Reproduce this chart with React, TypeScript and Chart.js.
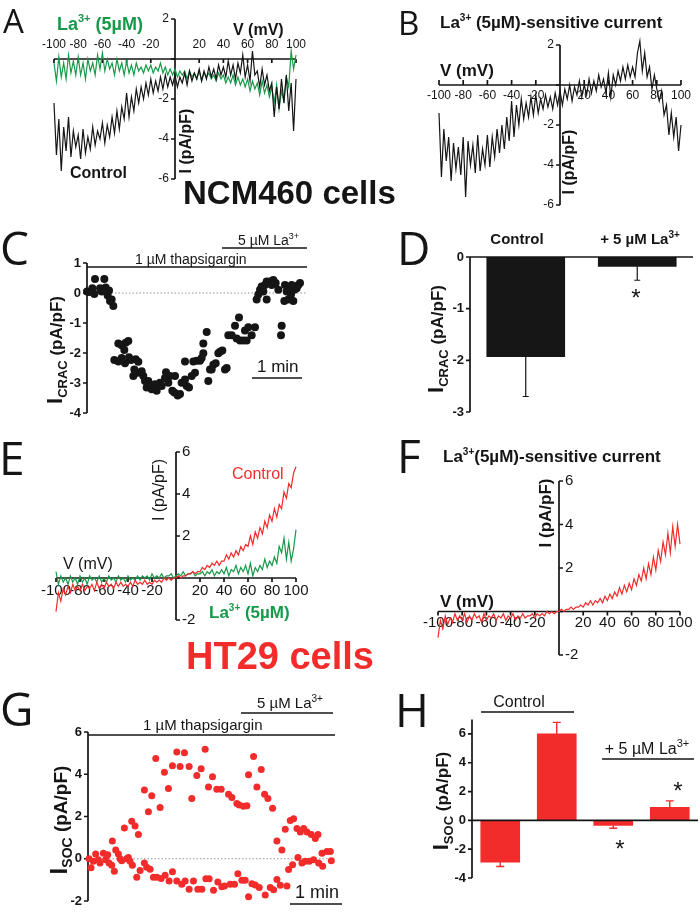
import React, { useEffect, useRef } from 'react';
import { Chart, registerables } from 'chart.js';

Chart.register(...registerables);

// ---------------- data ----------------
const V_MV = [
  -100, -98, -96, -94, -92, -90, -88, -86, -84, -82,
  -80, -78, -76, -74, -72, -70, -68, -66, -64, -62,
  -60, -58, -56, -54, -52, -50, -48, -46, -44, -42,
  -40, -38, -36, -34, -32, -30, -28, -26, -24, -22,
  -20, -18, -16, -14, -12, -10, -8, -6, -4, -2,
  0, 2, 4, 6, 8, 10, 12, 14, 16, 18,
  20, 22, 24, 26, 28, 30, 32, 34, 36, 38,
  40, 42, 44, 46, 48, 50, 52, 54, 56, 58,
  60, 62, 64, 66, 68, 70, 72, 74, 76, 78,
  80, 82, 84, 86, 88, 90, 92, 94, 96, 98,
  100,
];

// Panel A (NCM460) current density, pA/pF
const A_CONTROL = [
  -2.2, -4.8, -3.0, -5.6, -3.4, -4.6, -2.9, -4.9, -3.6, -4.4,
  -3.8, -5.0, -3.5, -4.7, -3.9, -4.5, -3.4, -4.3, -3.6, -4.0,
  -3.2, -4.2, -3.3, -3.9, -2.9, -3.7, -2.6, -3.5, -2.4, -3.0,
  -1.7, -2.9, -1.9, -2.6, -1.5, -2.2, -1.4, -2.0, -1.2, -1.8,
  -1.0, -1.7, -1.1, -1.6, -0.9, -1.5, -0.8, -1.4, -0.9, -1.3,
  -0.8, -1.4, -0.9, -1.2, -0.7, -1.3, -0.6, -1.1, -0.7, -1.0,
  -0.5, -1.1, -0.6, -1.0, -0.4, -0.9, -0.5, -1.0, -0.3, -0.8,
  -0.4, -0.9, -0.1, -0.8, -0.3, -1.0, -0.2, -0.7, 0.2, -0.9,
  -0.3, -1.1, 0.4, -0.8, -0.6, -1.4, -0.5, -1.3, -0.8, -1.6,
  -1.2, -2.9, -1.4, -2.5, -1.0, -2.2, -0.8, -2.6, -1.2, -3.6,
  -1.0,
];
const A_LA = [
  -0.2, -1.1, 0.1, -0.9, -0.2, -1.0, 0.2, -0.7, -0.1, -0.8,
  0.1, -0.8, -0.2, -1.0, 0.0, -0.6, -0.2, -0.8, 0.2, -0.5,
  0.3, -0.6, 0.0, -0.5, -0.2, -0.8, 0.0, -0.6, -0.2, -0.8,
  -0.1, -0.7, -0.3, -0.8, -0.2, -0.6, -0.4, -0.7, -0.3, -0.6,
  -0.3, -0.7, -0.4, -0.6, -0.2, -0.7, -0.4, -0.8, -0.5, -0.8,
  -0.5, -0.9, -0.6, -0.8, -0.6, -1.0, -0.6, -0.9, -0.7, -1.0,
  -0.6, -1.1, -0.7, -0.9, -0.7, -1.0, -0.8, -1.1, -0.7, -1.0,
  -0.8, -1.2, -0.9, -1.2, -0.8, -1.3, -0.9, -1.3, -1.0, -1.4,
  -1.0, -1.6, -1.1, -1.5, -1.2, -1.8, -1.1, -1.7, -1.3, -1.9,
  -1.4, -2.2, -1.3, -2.5, -1.6, -2.1, -0.9, -1.4, 0.4, -0.5,
  0.2,
];
// Panel B La3+-sensitive current
const B_SENSITIVE = [
  -1.4, -4.6, -2.2, -3.8, -2.6, -4.8, -2.9, -4.2, -3.1, -4.5,
  -2.6, -5.6, -2.8, -4.0, -3.0, -4.4, -2.5, -4.3, -3.2, -4.0,
  -2.5, -4.1, -2.6, -3.6, -2.2, -3.4, -2.0, -3.2, -1.6, -2.8,
  -0.8, -2.6, -1.0, -2.0, -0.7, -1.7, -0.9, -1.6, -0.6, -1.5,
  -0.5, -1.4, -0.7, -1.2, -0.5, -1.1, -0.6, -1.2, -0.4, -1.0,
  -0.3, -1.0, -0.2, -0.7, 0.0, -0.8, -0.1, -0.5, 0.2, -0.6,
  0.0, -0.5, 0.3, -0.4, 0.2, -0.3, 0.5, -0.1, 0.3, -0.4,
  0.6, -0.6, 0.5, 0.0, 0.7, 0.2, 0.9, 0.3, 1.0, 0.4,
  0.9, 0.4, 1.6, 2.2, 0.7, 1.6, 0.4, 0.9, -0.2, 0.5,
  -0.2, -0.8, -0.3, -1.5, -1.0, -2.5, -1.4, -2.6, -1.6, -3.3,
  -2.0,
];
// Panel E (HT29)
const E_CONTROL = [
  -1.6, -0.7, -1.1, -0.5, -0.8, -0.4, -0.7, -0.3, -0.6, -0.4,
  -0.6, -0.3, -0.6, -0.4, -0.5, -0.3, -0.6, -0.2, -0.5, -0.3,
  -0.5, -0.2, -0.4, -0.3, -0.5, -0.2, -0.4, -0.2, -0.4, -0.3,
  -0.4, -0.2, -0.4, -0.1, -0.3, -0.2, -0.3, -0.1, -0.3, -0.2,
  -0.3, -0.1, -0.2, -0.1, -0.2, 0.0, -0.1, 0.0, -0.1, 0.0,
  0.0, 0.1, 0.0, 0.1, 0.1, 0.2, 0.2, 0.3, 0.2, 0.3,
  0.3, 0.5, 0.4, 0.6, 0.5, 0.7, 0.6, 0.8, 0.6, 0.8,
  0.8, 1.1, 0.9, 1.2, 1.0, 1.3, 1.1, 1.5, 1.3, 1.6,
  1.5, 2.0, 1.6, 2.2, 1.9, 2.4, 2.1, 2.7, 2.4, 3.0,
  2.7, 3.3, 2.9, 3.5, 3.3, 4.1, 3.8, 4.5, 4.3, 5.0,
  5.3,
];
const E_LA = [
  0.3, -0.3, 0.1, -0.2, 0.0, -0.3, 0.1, -0.2, 0.0, -0.3,
  0.1, -0.2, 0.0, -0.3, 0.1, -0.1, 0.0, -0.2, 0.1, -0.2,
  0.0, -0.2, 0.1, -0.1, 0.0, -0.2, 0.1, -0.1, 0.0, -0.2,
  0.1, -0.1, 0.0, -0.1, 0.1, -0.1, 0.1, 0.0, 0.1, -0.1,
  0.2, 0.0, 0.1, 0.0, 0.2, 0.0, 0.1, 0.1, 0.2, 0.0,
  0.1, 0.2, 0.1, 0.3, 0.1, 0.2, 0.2, 0.3, 0.1, 0.2,
  0.2, 0.3, 0.1, 0.3, 0.2, 0.4, 0.1, 0.3, 0.2, 0.4,
  0.2, 0.5, 0.1, 0.4, 0.3, 0.6, 0.2, 0.5, 0.3, 0.6,
  0.2, 0.7, 0.1, 0.5, 0.3, 0.6, 0.4, 0.9, 0.5, 0.8,
  0.6, 1.0, 0.7, 1.5, 1.2, 1.9, 0.9, 1.7, 0.8, 1.4,
  2.3,
];
// Panel F La3+-sensitive current (HT29)
const F_SENSITIVE = [
  -1.2, -0.4, -0.8, -0.2, -0.6, -0.3, -0.5, -0.1, -0.4, -0.2,
  -0.4, -0.1, -0.5, -0.2, -0.4, -0.1, -0.3, -0.2, -0.5, -0.1,
  -0.4, -0.2, -0.3, -0.1, -0.4, -0.2, -0.3, -0.1, -0.4, -0.2,
  -0.3, -0.1, -0.4, -0.2, -0.3, -0.1, -0.3, -0.2, -0.2, -0.1,
  -0.3, -0.1, -0.2, -0.1, -0.2, 0.0, -0.1, 0.0, -0.1, 0.0,
  0.0, 0.1, 0.0, 0.1, 0.1, 0.2, 0.1, 0.2, 0.2, 0.3,
  0.2, 0.4, 0.3, 0.5, 0.3, 0.5, 0.4, 0.6, 0.4, 0.7,
  0.5, 0.8, 0.6, 0.9, 0.7, 1.1, 0.8, 1.2, 0.9, 1.3,
  1.0, 1.5, 1.2, 1.7, 1.4, 2.0, 1.5, 2.2, 1.7, 2.5,
  1.9, 2.8, 2.3, 3.2, 2.6, 3.6, 2.7, 3.9, 3.0, 4.0,
  3.1,
];

// Panel C time course (s, pA/pF)
const C_TIME_S = [
  0, 2.4, 6.4, 8.8, 9.6, 15.6, 17.6, 20.8, 22.4, 24.8, 26.4, 27.6, 29.6, 31.6,
  32.8, 37.6, 37.6, 41.6, 41.6, 44.8, 45.6, 46.4, 49.6, 50.4, 52.8, 55.6, 56.8, 58.4,
  60.8, 61.6, 65.6, 67.6, 69.6, 71.6, 73.6, 75.6, 77.6, 81.6, 83.6, 87.6, 89.6, 93.6,
  94.8, 97.6, 99.6, 102.4, 104.8, 105.6, 108.8, 111.6, 113.6, 117.6, 117.6, 119.6, 122.4,
  125.6, 127.6, 129.6, 131.6, 135.6, 137.6, 139.6, 139.6, 143.6, 145.6, 147.6, 149.6,
  151.6, 154.4, 157.6, 159.6, 162.4, 165.6, 167.6, 169.6, 173.6, 177.6, 179.6, 182.4,
  183.6, 187.6, 189.6, 191.6, 193.6, 197.6, 201.6, 203.6, 205.6, 207.6, 209.6, 211.6,
  213.6, 215.6, 215.6, 219.6, 221.6, 223.6, 226.4, 229.6, 232.8, 233.6, 236.8, 237.6,
  239.6, 241.6, 242.4, 244.8, 245.6, 247.6, 248.8, 251.6, 253.6, 255.6,
];
const C_ICRAC = [
  0.05, 0.03, 0.16, -0.03, 0.47, 0.16, 0.05, 0.47, 0.18, -0.08, 0.08, -0.27, -0.22, -0.43,
  -2.23, -1.68, -2.28, -1.74, -2.17, -1.9, -2.34, -1.66, -1.6, -2.14, -2.23, -2.77, -2.55, -2.21,
  -2.66, -2.29, -2.61, -2.77, -2.93, -3.15, -2.93, -3.1, -3.21, -3.04, -3.26, -2.99, -3.1, -2.83,
  -2.64, -2.99, -2.77, -3.26, -3.32, -2.77, -3.42, -3.37, -2.99, -2.88, -2.28, -3.1, -3.15,
  -2.77, -2.28, -2.66, -2.26, -2.26, -2.17, -2.01, -1.68, -1.3, -2.93, -2.55, -2.55,
  -2.39, -2.34, -2.01, -1.96, -1.92, -2.55, -2.5, -1.41, -1.41, -1.09, -1.52, -0.82,
  -1.58, -1.58, -1.25, -1.58, -1.14, -1.41, -1.14, -0.22, -0.05, 0.11, 0.22, 0.05,
  0.27, -0.22, 0.38, 0.38, 0.27, 0.43, 0.33, 0.11, -1.41, -1.09, -0.27, 0.27,
  0.05, -0.22, 0.16, -0.05, 0.27, -0.27, 0.11, 0.16, 0.27, 0.33,
];

// Panel D summary
const D_GROUPS = ['Control', '+ 5 µM La3+'];
const D_MEAN = [-1.93, -0.18];
const D_SEM = [0.77, 0.27];

// Panel G time course (s, pA/pF)
const G_TIME_S = [
  1.2, 3.6, 6.4, 9.2, 12.4, 14.4, 18.4, 21.2, 23.6, 25.2, 28.4, 29.2, 31.6, 33.2, 36.4,
  38.4, 40.4, 43.6, 46.4, 48.4, 50.4, 52.4, 53.2, 56.4, 58.4, 60.4, 62.4, 67.6, 67.6,
  70.4, 72.4, 74.4, 76.4, 78.4, 81.2, 82.4, 86.4, 87.6, 91.6, 92.4, 96.4, 97.2, 101.2,
  101.2, 106.4, 106.4, 110.4, 112.4, 115.6, 116.4, 121.2, 121.2, 124.4, 126.4, 130.4,
  131.6, 135.6, 136.4, 140.4, 141.2, 144.4, 145.2, 149.2, 150.4, 154.4, 155.6, 159.6,
  160.4, 163.6, 168.4, 170.4, 172.4, 175.6, 178.4, 179.6, 181.2, 184.4, 186.4, 188.4,
  190.4, 192.4, 192.4, 196.4, 198.4, 200.4, 202.4, 205.2, 207.6, 211.6, 212.4, 215.6,
  218.4, 221.2, 222.4, 226.4, 226.4, 230.4, 232.4, 236.4, 238.4, 240.4, 242.4, 245.2,
  246.4, 250.4, 251.6, 254.4, 256.4, 258.4, 260.4, 262.4, 265.2, 267.6, 270.4, 272.4,
  275.6, 276.4, 280.4, 281.2, 286.4, 290.4, 291.6,
];
const G_ISOC = [
  0, -0.43, -0.12, 0.22, -0.05, -0.2, 0.26, -0.05, 0.19, -0.2, -0.31, 0.84, -0.59, 0.42, 0.22,
  0, -0.09, 1.46, 0, 0.06, -0.12, 1.77, -0.31, 1.55, -0.87, 1.15, -0.56, 3.26, -0.2,
  -0.4, 2.23, -0.5, 2.98, -0.87, 4.74, -0.87, 2.43, -0.93, 4.09, -0.78, 3.32, -1.05, 4.4,
  -0.62, 5.05, -1.05, 4.37, -1.21, 5.02, -1.05, 4.37, -1.44, 2.85, -1.05, 3.94,
  -1.44, 4.26, -1.44, 5.18, -0.95, 3.4, -0.95, 3.88, -1.49, 3.29, -1.1, 3.29,
  -1.33, -1.29, 3.05, -1.21, 2.9, -1.21, 2.62, -0.71, 2.54, -1.02, 2.48, -1.02,
  2.51, -1.8, 3.98, -1.18, 4.84, -1.24, 3.4, -1.36, 4.22, 3.05, -1.72, 2.85,
  -1.36, 2.39, -1.47, 0.84, -0.98, -1.26, 0.42, 1.4, -1.29, -0.51, 1.81, -0.28,
  1.89, 1.43, 0.06, 1.27, -0.2, 1.43, -0.12, 1.27, -0.12, 1.15, -0.05, 0.96,
  1.15, -0.2, 0.26, -0.36, 0.34, 0.34, -0.09,
];

// Panel H summary
const H_GROUPS = ['Control inward', 'Control outward', 'La3+ inward', 'La3+ outward'];
const H_MEAN = [-2.9, 6.0, -0.35, 0.9];
const H_SEM = [0.3, 0.8, 0.2, 0.45];

// tick values
const IV_X_TICKS = [-100, -80, -60, -40, -20, 20, 40, 60, 80, 100];
const AB_Y_TICKS = [2, 0, -2, -4, -6];
const AB_Y_LABELS = [2, -2, -4, -6];
const C_Y_TICKS = [1, 0, -1, -2, -3, -4];
const D_Y_TICKS = [0, -1, -2, -3];
const EF_Y_TICKS = [6, 4, 2, 0, -2];
const EF_Y_LABELS = [6, 4, 2, -2];
const G_Y_TICKS = [6, 4, 2, 0, -2];
const H_Y_TICKS = [6, 4, 2, 0, -2, -4];

// ---------------- styling ----------------
const PW = 700;
const PH = 912;
const INK = '#151515';
const GREEN = '#17994a';
const RED = '#f22b2b';
const SANS = '"Liberation Sans", Arial, Helvetica, sans-serif';
const fb = (n: number) => `bold ${n}px ${SANS}`;
const fn = (n: number) => `${n}px ${SANS}`;
const fl = (n: number) => `${n}px "Open Sans", "Liberation Sans", sans-serif`;
const AXW = 1.7;

type Seg = [string, string, number?];

function rich(ctx: CanvasRenderingContext2D, segs: Seg[], x: number, y: number, o: any = {}) {
  ctx.save();
  ctx.translate(x, y);
  if (o.rot) ctx.rotate(o.rot);
  ctx.fillStyle = o.color || INK;
  ctx.textBaseline = 'alphabetic';
  ctx.textAlign = 'left';
  let w = 0;
  for (const s of segs) { ctx.font = s[1]; w += ctx.measureText(s[0]).width; }
  let cx = o.align === 'center' ? -w / 2 : o.align === 'right' ? -w : 0;
  for (const s of segs) {
    ctx.font = s[1];
    ctx.fillText(s[0], cx, s[2] || 0);
    cx += ctx.measureText(s[0]).width;
  }
  ctx.restore();
}

function txt(ctx: CanvasRenderingContext2D, s: string, font: string, x: number, y: number, o: any = {}) {
  rich(ctx, [[s, font]], x, y, o);
}

function hline(ctx: CanvasRenderingContext2D, x1: number, x2: number, y: number, w = 1.5, color = INK, dash: number[] = []) {
  ctx.save();
  ctx.strokeStyle = color;
  ctx.lineWidth = w;
  ctx.setLineDash(dash);
  ctx.beginPath();
  ctx.moveTo(x1, y);
  ctx.lineTo(x2, y);
  ctx.stroke();
  ctx.restore();
}

function xAxis(ctx: CanvasRenderingContext2D, c: any, atY: number, ticks: number[], tickLen: number,
  labels: number[], labelDy: number, font: string) {
  const { left, right } = c.chartArea;
  const xs = c.scales.x;
  const y = c.scales.y.getPixelForValue(atY);
  ctx.save();
  ctx.strokeStyle = INK;
  ctx.lineWidth = AXW;
  ctx.beginPath();
  ctx.moveTo(left, y);
  ctx.lineTo(right, y);
  for (const t of ticks) {
    const x = xs.getPixelForValue(t);
    ctx.moveTo(x, y);
    ctx.lineTo(x, y + tickLen);
  }
  ctx.stroke();
  ctx.fillStyle = INK;
  ctx.font = font;
  ctx.textAlign = 'center';
  ctx.textBaseline = 'middle';
  for (const t of labels) ctx.fillText(String(t), xs.getPixelForValue(t), y + labelDy);
  ctx.restore();
}

function yAxis(ctx: CanvasRenderingContext2D, c: any, x: number, ticks: number[], tickLen: number,
  labels: number[], labelDx: number, font: string) {
  const { top, bottom } = c.chartArea;
  const ys = c.scales.y;
  ctx.save();
  ctx.strokeStyle = INK;
  ctx.lineWidth = AXW;
  ctx.beginPath();
  ctx.moveTo(x, top);
  ctx.lineTo(x, bottom);
  for (const t of ticks) {
    const y = ys.getPixelForValue(t);
    ctx.moveTo(x, y);
    ctx.lineTo(x + tickLen, y);
  }
  ctx.stroke();
  ctx.fillStyle = INK;
  ctx.font = font;
  ctx.textAlign = labelDx < 0 ? 'right' : 'left';
  ctx.textBaseline = 'middle';
  for (const t of labels) ctx.fillText(String(t), x + labelDx, ys.getPixelForValue(t));
  ctx.restore();
}

function errorBars(ctx: CanvasRenderingContext2D, c: any, mean: number[], sem: number[], color: string, cap: number, w: number) {
  const xs = c.scales.x;
  const ys = c.scales.y;
  ctx.save();
  ctx.strokeStyle = color;
  ctx.lineWidth = w;
  ctx.beginPath();
  mean.forEach((m, i) => {
    const x = xs.getPixelForValue(i);
    const y1 = ys.getPixelForValue(m);
    const y2 = ys.getPixelForValue(m + Math.sign(m) * sem[i]);
    ctx.moveTo(x, y1);
    ctx.lineTo(x, y2);
    ctx.moveTo(x - cap, y2);
    ctx.lineTo(x + cap, y2);
  });
  ctx.stroke();
  ctx.restore();
}

const LA = (size: number, supSize: number, rest: string, bold = true): Seg[] => [
  ['La', bold ? fb(size) : fn(size)],
  ['3+', bold ? fb(supSize) : fn(supSize), -size * 0.42],
  [rest, bold ? fb(size) : fn(size)],
];

function ylabelSub(ctx: CanvasRenderingContext2D, sub: string, cx: number, cy: number, big: number) {
  const segs: Seg[] = [
    ['I', fb(big)],
    [sub, fb(Math.round(big * 0.6)), big * 0.22],
    [' (pA/pF)', fb(Math.round(big * 0.78))],
  ];
  rich(ctx, segs, cx + big * 0.33, cy, { rot: -Math.PI / 2, align: 'center' });
}

type Area = { l: number; t: number; r: number; b: number };

function makeChart(canvas: HTMLCanvasElement, area: Area, type: any, data: any, xs: any, ys: any,
  before?: (ctx: CanvasRenderingContext2D, c: any) => void, after?: (ctx: CanvasRenderingContext2D, c: any) => void) {
  return new Chart(canvas, {
    type,
    data,
    options: {
      responsive: false,
      maintainAspectRatio: false,
      animation: false,
      devicePixelRatio: 1,
      events: [],
      layout: { padding: { left: area.l, top: area.t, right: PW - area.r, bottom: PH - area.b } },
      plugins: { legend: { display: false }, tooltip: { enabled: false }, title: { display: false } },
      scales: {
        x: { ...xs, display: false },
        y: { ...ys, display: false },
      },
    } as any,
    plugins: [{
      id: 'deco',
      beforeDatasetsDraw: (c: any) => { if (before) before(c.ctx, c); },
      afterDatasetsDraw: (c: any) => { if (after) after(c.ctx, c); },
    }],
  });
}

const trace = (ys: number[], color: string, w = 1.2) => ({
  data: V_MV.map((v, i) => ({ x: v, y: ys[i] })),
  borderColor: color,
  borderWidth: w,
  pointRadius: 0,
  tension: 0,
  fill: false,
  clip: false,
});

const dots = (xs: number[], ys: number[], color: string, r: number) => ({
  data: xs.map((t, i) => ({ x: t, y: ys[i] })),
  backgroundColor: color,
  borderWidth: 0,
  pointRadius: r,
  clip: false,
});

// ---------------- panels ----------------
const PANELS: ((cv: HTMLCanvasElement) => Chart)[] = [
  // A
  (cv) => makeChart(cv, { l: 54, t: 19, r: 296, b: 179 }, 'line',
    { datasets: [trace(A_CONTROL, INK), trace(A_LA, GREEN)] },
    { type: 'linear', min: -100, max: 100 }, { min: -6, max: 2 },
    (ctx, c) => {
      const x0 = c.scales.x.getPixelForValue(0);
      xAxis(ctx, c, 0, IV_X_TICKS, 4, IV_X_TICKS, -14, fn(12));
      yAxis(ctx, c, x0, AB_Y_TICKS, -4, AB_Y_LABELS, -6, fn(12));
      txt(ctx, 'A', fl(33), 3, 33);
      rich(ctx, LA(18, 11, ' (5µM)'), 57, 30, { color: GREEN });
      txt(ctx, 'V (mV)', fb(16), 233, 35);
      txt(ctx, 'Control', fb(16), 70, 178);
      txt(ctx, 'I (pA/pF)', fb(16), x0 + 16, 141, { rot: -Math.PI / 2, align: 'center' });
      txt(ctx, 'NCM460 cells', fb(33), 183, 204);
    }),
  // B
  (cv) => makeChart(cv, { l: 439, t: 45, r: 681, b: 205 }, 'line',
    { datasets: [trace(B_SENSITIVE, INK)] },
    { type: 'linear', min: -100, max: 100 }, { min: -6, max: 2 },
    (ctx, c) => {
      const x0 = c.scales.x.getPixelForValue(0);
      xAxis(ctx, c, 0, IV_X_TICKS, -5, IV_X_TICKS, 11, fn(12));
      yAxis(ctx, c, x0, AB_Y_TICKS, -4, AB_Y_LABELS, -6, fn(12));
      txt(ctx, 'B', fl(33), 398, 35);
      rich(ctx, LA(17, 10, ' (5µM)-sensitive current'), 440, 28);
      txt(ctx, 'V (mV)', fb(17), 440, 76);
      txt(ctx, 'I (pA/pF)', fb(16), x0 + 14, 162, { rot: -Math.PI / 2, align: 'center' });
    }),
  // C
  (cv) => makeChart(cv, { l: 87, t: 263, r: 307, b: 413 }, 'scatter',
    { datasets: [dots(C_TIME_S, C_ICRAC, INK, 4)] },
    { type: 'linear', min: 0, max: 264 }, { min: -4, max: 1 },
    (ctx, c) => {
      const { left, right } = c.chartArea;
      const y0 = c.scales.y.getPixelForValue(0);
      hline(ctx, left, right, y0, 0.8, '#777', [1.5, 2]);
      yAxis(ctx, c, left, C_Y_TICKS, -4, C_Y_TICKS, -6, fb(13));
      hline(ctx, left, right, 267, 1.5);
      txt(ctx, '1 µM thapsigargin', fn(14), 135, 264);
      hline(ctx, 222, right, 248, 1.5);
      rich(ctx, [['5 µM La', fn(14)], ['3+', fn(9), -6]], 238, 245);
      txt(ctx, '1 min', fn(17), 257, 372);
      hline(ctx, 252, 302, 378, 1.5);
      ylabelSub(ctx, 'CRAC', 55, 350, 22);
      txt(ctx, 'C', fl(46), 0, 265);
    }),
  // D
  (cv) => makeChart(cv, { l: 470, t: 257, r: 693, b: 412 }, 'bar',
    { labels: D_GROUPS, datasets: [{ data: D_MEAN, backgroundColor: '#161616', barThickness: 78 }] },
    { type: 'category' }, { min: -3, max: 0 },
    (ctx, c) => {
      const { left } = c.chartArea;
      yAxis(ctx, c, left, D_Y_TICKS, -4, D_Y_TICKS, -6, fb(13));
      txt(ctx, 'Control', fb(15), 517, 244, { align: 'center' });
      rich(ctx, [['+ 5 µM La', fb(15)], ['3+', fb(10), -6]], 640, 244, { align: 'center' });
      ylabelSub(ctx, 'CRAC', 436, 339, 22);
      txt(ctx, 'D', fl(46), 397, 265);
    },
    (ctx, c) => {
      xAxis(ctx, c, 0, [], 0, [], 0, fn(12));
      errorBars(ctx, c, D_MEAN, D_SEM, INK, 3, 1.2);
      txt(ctx, '*', fn(24), 636, 306, { align: 'center' });
    }),
  // E
  (cv) => makeChart(cv, { l: 56, t: 452, r: 296, b: 620 }, 'line',
    { datasets: [trace(E_CONTROL, RED), trace(E_LA, GREEN)] },
    { type: 'linear', min: -100, max: 100 }, { min: -2, max: 6 },
    (ctx, c) => {
      const x0 = c.scales.x.getPixelForValue(0);
      xAxis(ctx, c, 0, IV_X_TICKS, 4, IV_X_TICKS, 13, fn(15));
      yAxis(ctx, c, x0, EF_Y_TICKS, 4, EF_Y_LABELS, 6, fn(15));
      txt(ctx, 'E', fl(46), -1, 475);
      txt(ctx, 'V (mV)', fn(16), 63, 569);
      txt(ctx, 'Control', fn(16), 232, 479, { color: RED });
      rich(ctx, LA(17, 10, ' (5µM)'), 209, 618, { color: GREEN });
      txt(ctx, 'I (pA/pF)', fn(16), x0 - 12, 490, { rot: -Math.PI / 2, align: 'center' });
      txt(ctx, 'HT29 cells', fb(38), 280, 669, { align: 'center', color: RED });
    }),
  // F
  (cv) => makeChart(cv, { l: 438, t: 481, r: 680, b: 655 }, 'line',
    { datasets: [trace(F_SENSITIVE, RED)] },
    { type: 'linear', min: -100, max: 100 }, { min: -2, max: 6 },
    (ctx, c) => {
      const x0 = c.scales.x.getPixelForValue(0);
      xAxis(ctx, c, 0, IV_X_TICKS, 4, IV_X_TICKS, 11, fn(15));
      yAxis(ctx, c, x0, EF_Y_TICKS, 4, EF_Y_LABELS, 6, fn(15));
      txt(ctx, 'F', fl(46), 397, 473);
      rich(ctx, LA(17, 10, '(5µM)-sensitive current'), 443, 462);
      txt(ctx, 'V (mV)', fb(17), 440, 607);
      txt(ctx, 'I (pA/pF)', fb(17), x0 - 8, 513, { rot: -Math.PI / 2, align: 'center' });
    }),
  // G
  (cv) => makeChart(cv, { l: 88, t: 732, r: 335, b: 901 }, 'scatter',
    { datasets: [dots(G_TIME_S, G_ISOC, RED, 3.5)] },
    { type: 'linear', min: 0, max: 296 }, { min: -2, max: 6 },
    (ctx, c) => {
      const { left, right } = c.chartArea;
      const y0 = c.scales.y.getPixelForValue(0);
      hline(ctx, left, right, y0, 0.8, '#777', [1.5, 2]);
      yAxis(ctx, c, left, G_Y_TICKS, -4, G_Y_TICKS, -6, fb(13));
      hline(ctx, left, right, 735, 1.5);
      txt(ctx, '1 µM thapsigargin', fn(15), 143, 730);
      hline(ctx, 241, 333, 713, 1.5);
      rich(ctx, [['5 µM La', fn(15)], ['3+', fn(10), -6]], 257, 708);
      txt(ctx, '1 min', fn(18), 295, 898);
      hline(ctx, 290, 342, 904, 1.5);
      ylabelSub(ctx, 'SOC', 59, 820, 24);
      txt(ctx, 'G', fl(46), 0, 726);
    }),
  // H
  (cv) => makeChart(cv, { l: 472, t: 719.5, r: 698, b: 878 }, 'bar',
    { labels: H_GROUPS, datasets: [{ data: H_MEAN, backgroundColor: RED, barThickness: 39 }] },
    { type: 'category' }, { min: -4, max: 7 },
    (ctx, c) => {
      const { left } = c.chartArea;
      yAxis(ctx, c, left, H_Y_TICKS, -4, H_Y_TICKS, -6, fb(13));
      txt(ctx, 'Control', fn(16), 519, 707, { align: 'center' });
      hline(ctx, 481, 574, 712, 1.5);
      rich(ctx, [['+ 5 µM La', fn(16)], ['3+', fn(11), -7]], 647, 754, { align: 'center' });
      hline(ctx, 602, 694, 759, 1.5);
      ylabelSub(ctx, 'SOC', 441, 801, 22);
      txt(ctx, 'H', fl(46), 395, 727);
    },
    (ctx, c) => {
      xAxis(ctx, c, 0, [], 0, [], 0, fn(12));
      errorBars(ctx, c, H_MEAN, H_SEM, RED, 4, 1.4);
      txt(ctx, '*', fn(24), 620, 857, { align: 'center' });
      txt(ctx, '*', fn(24), 678, 799, { align: 'center' });
    }),
];

export default function App() {
  const refs = useRef<(HTMLCanvasElement | null)[]>([]);
  useEffect(() => {
    const charts = PANELS.map((make, i) => make(refs.current[i] as HTMLCanvasElement));
    return () => { charts.forEach((ch) => ch.destroy()); };
  }, []);
  return (
    <div style={{ position: 'absolute', left: 0, top: 0, width: PW, height: PH, background: '#fff', overflow: 'hidden' }}>
      {PANELS.map((_, i) => (
        <canvas
          key={i}
          ref={(el) => { refs.current[i] = el; }}
          width={PW}
          height={PH}
          style={{ position: 'absolute', left: 0, top: 0, width: PW, height: PH }}
        />
      ))}
    </div>
  );
}
